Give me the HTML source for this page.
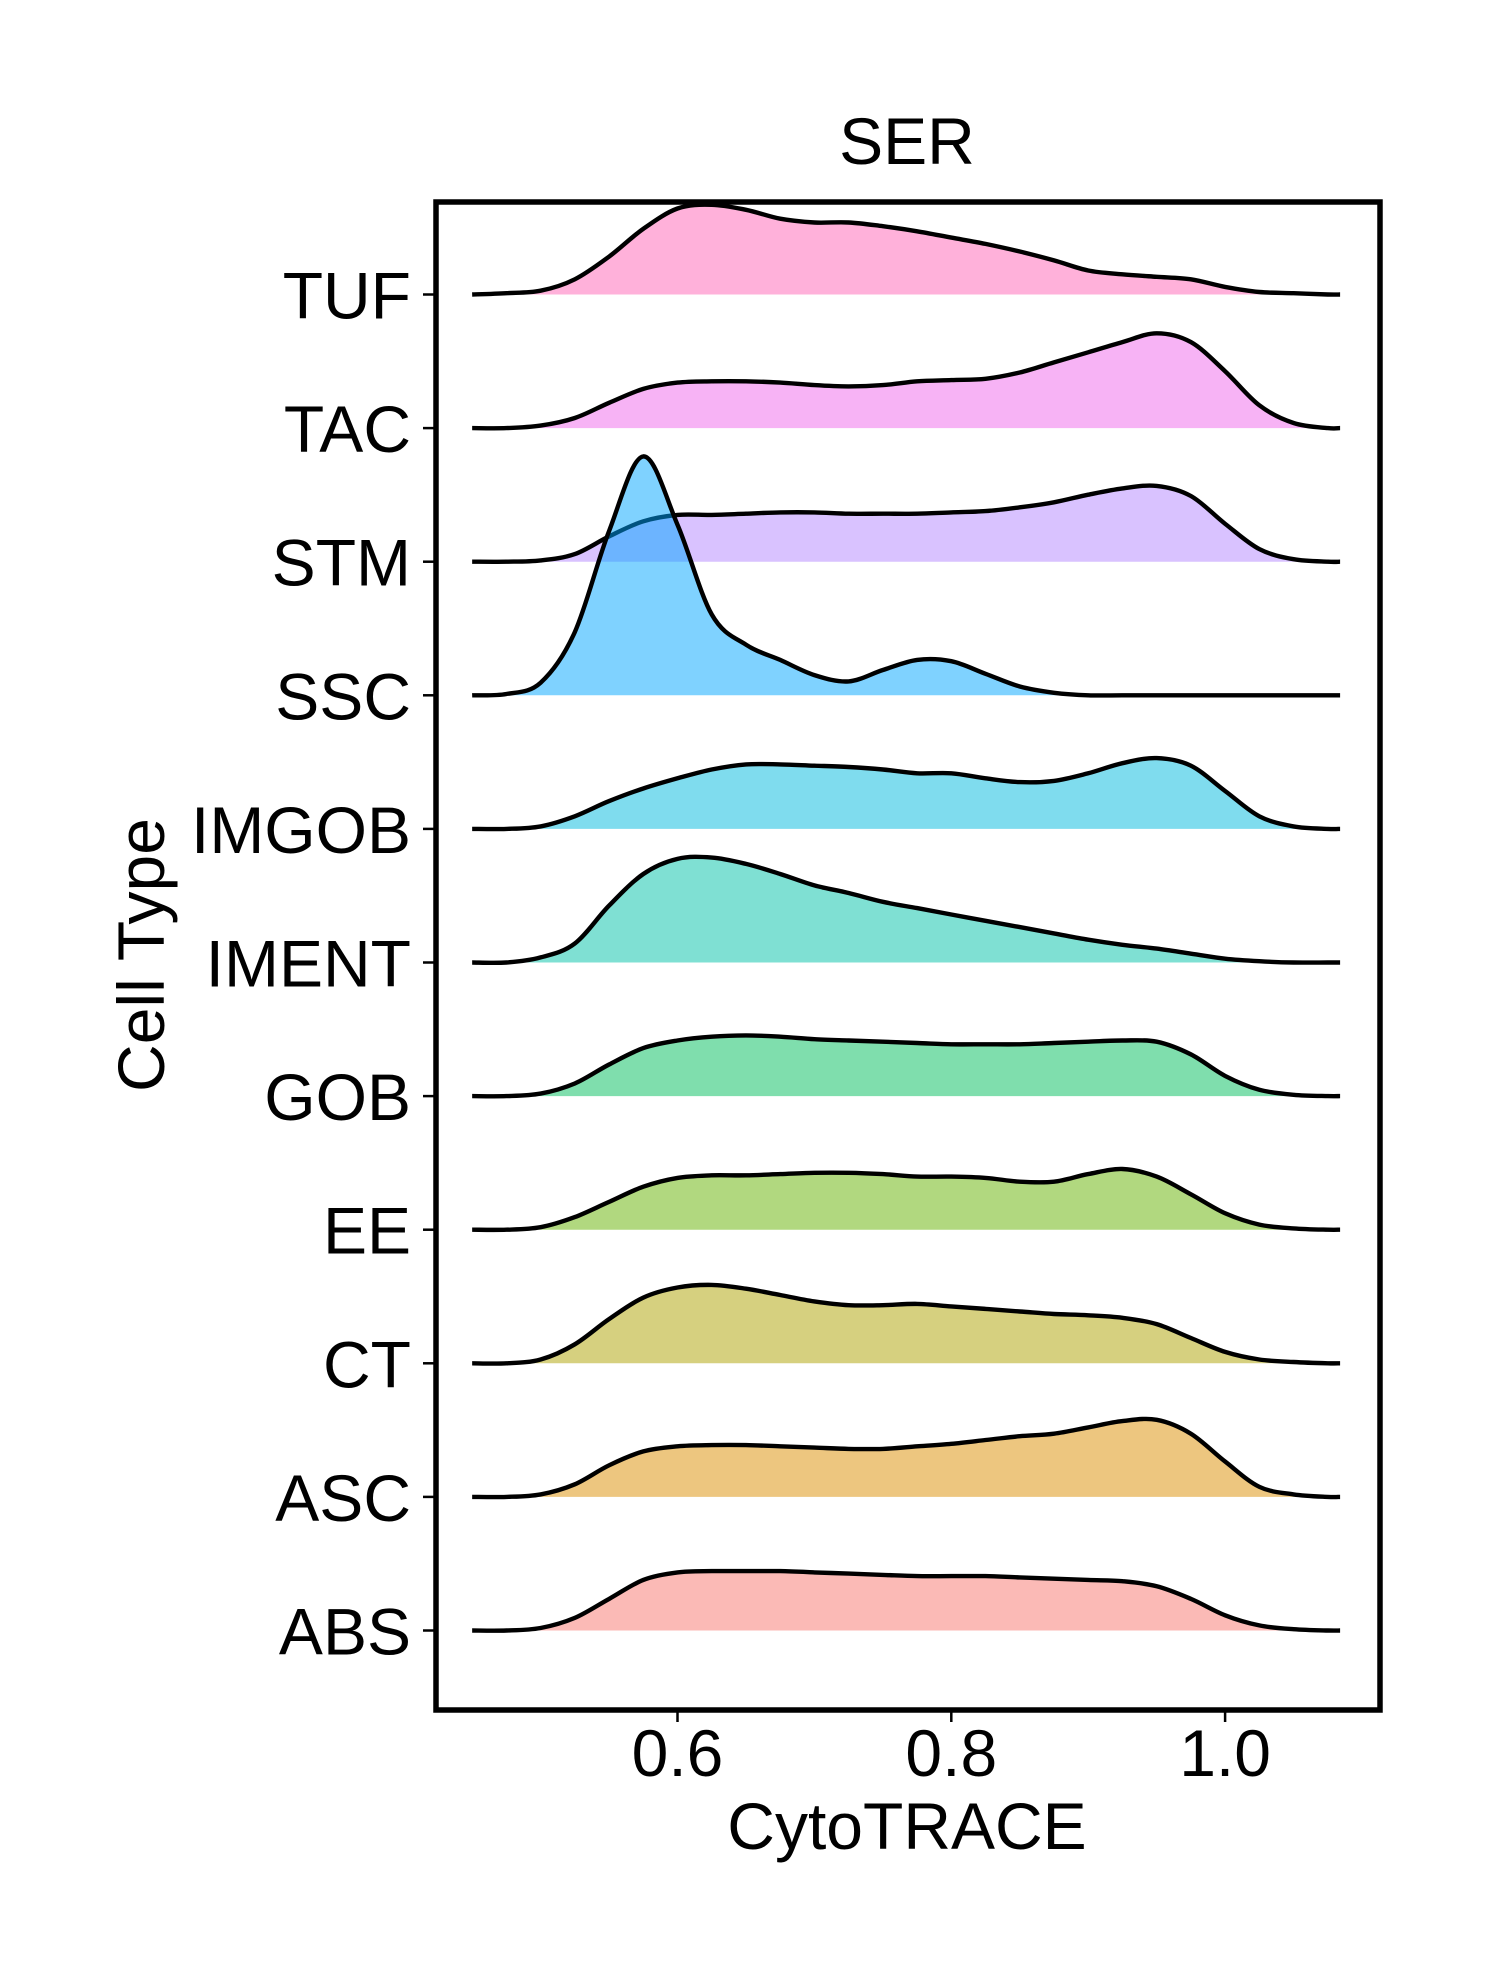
<!DOCTYPE html>
<html><head><meta charset="utf-8"><style>
html,body{margin:0;padding:0;background:#fff;}
svg{display:block;font-family:"Liberation Sans",sans-serif;}
</style></head><body>
<svg id="chart" width="1500" height="1980" viewBox="0 0 1500 1980">
<rect width="1500" height="1980" fill="#fff"/>
<text x="907" y="164" font-size="66" text-anchor="middle">SER</text>
<g id="ridges"></g>
<rect x="436" y="202" width="944" height="1508" fill="none" stroke="#000" stroke-width="5.5"/>
<g id="axes"></g>
<text x="907" y="1849" font-size="66" text-anchor="middle">CytoTRACE</text>
<text transform="translate(164,955) rotate(-90)" font-size="66" text-anchor="middle">Cell Type</text>
</svg>
<script>
const categories = ["TUF","TAC","STM","SSC","IMGOB","IMENT","GOB","EE","CT","ASC","ABS"];
const colors = ["#FF63B6","#EF67EB","#B385FF","#00A6FF","#00BADE","#00C1A7","#00BD5C","#64B200","#AEA200","#DB8E00","#F8766D"];
const xGrid = [0.45,0.475,0.5,0.525,0.55,0.575,0.6,0.625,0.65,0.675,0.7,0.725,0.75,0.775,0.8,0.825,0.85,0.875,0.9,0.925,0.95,0.975,1.0,1.025,1.05,1.075,1.084];
const densTUF = [0,1,3,12,30,52,68,71,67,60,57,57,54,50,45,40,34,27,19,16,14,12,6,2,1,0,0];
const densTAC = [0,0,2,8,20,31,36,37,37,36,34,33,34,37,38,39,44,52,60,68,75,68,45,18,4,0,0];
const densSTM = [0,0,1,6,20,32,37,37,38,39,39,38,38,38,39,40,43,47,53,58,60,52,30,10,2,0,0];
const densSSC = [0,1,10,50,130,189,135,64,40,28,16,11,20,28,27,17,7,2,0,0,0,0,0,0,0,0,0];
const densIMGOB = [0,0,2,10,22,32,40,47,51,51,50,49,47,44,44,40,37,38,44,52,56,50,30,10,2,0,0];
const densIMENT = [0,0,4,15,45,70,82,83,78,70,61,55,48,43,38,33,28,23,18,14,11,7,3,1,0,0,0];
const densGOB = [0,0,2,10,25,38,44,47,48,47,45,44,43,42,41,41,41,42,43,44,43,33,16,5,1,0,0];
const densEE = [0,0,2,10,22,34,41,43,43,44,45,45,44,42,42,41,38,38,44,48,42,28,13,4,1,0,0];
const densCT = [0,0,3,15,35,52,60,62,59,54,49,46,46,47,45,43,41,39,38,36,31,20,9,3,1,0,0];
const densASC = [0,0,2,10,25,36,40,41,41,40,39,38,38,40,42,45,48,50,55,60,61,50,28,8,2,0,0];
const densABS = [0,0,2,10,25,40,46,47,47,47,46,45,44,43,43,43,42,41,40,39,35,25,12,4,1,0,0];
const series = [densTUF,densTAC,densSTM,densSSC,densIMGOB,densIMENT,densGOB,densEE,densCT,densASC,densABS];
const xTicks = [0.6,0.8,1.0];
const xTickLabels = ["0.6","0.8","1.0"];

const NS="http://www.w3.org/2000/svg";
function xScale(v){return 677.5+(v-0.6)*1369;}
function yBase(i){return 294.5+i*133.6;}
function hScale(d){return d*1.264;}
function pathFor(pts){
  let d="M"+pts[0][0]+","+pts[0][1];
  for(let i=0;i<pts.length-1;i++){
    const p0=pts[Math.max(0,i-1)],p1=pts[i],p2=pts[i+1],p3=pts[Math.min(pts.length-1,i+2)];
    const c1=[p1[0]+(p2[0]-p0[0])/6,p1[1]+(p2[1]-p0[1])/6];
    const c2=[p2[0]-(p3[0]-p1[0])/6,p2[1]-(p3[1]-p1[1])/6];
    d+=" C"+c1[0].toFixed(1)+","+c1[1].toFixed(1)+" "+c2[0].toFixed(1)+","+c2[1].toFixed(1)+" "+p2[0].toFixed(1)+","+p2[1].toFixed(1);
  }
  return d;
}
const g=document.getElementById("ridges");
series.forEach((vals,i)=>{
  const b=yBase(i);
  const pts=vals.map((v,k)=>[xScale(xGrid[k]),b-hScale(v)]);
  const line=pathFor(pts);
  const fill=document.createElementNS(NS,"path");
  fill.setAttribute("d",line+" L"+pts[pts.length-1][0]+","+b+" L"+pts[0][0]+","+b+" Z");
  fill.setAttribute("fill",colors[i]);
  fill.setAttribute("fill-opacity","0.5");
  
  
  g.appendChild(fill);
  const ln=document.createElementNS(NS,"path");
  ln.setAttribute("d",line);
  ln.setAttribute("fill","none");
  ln.setAttribute("stroke","#000");
  ln.setAttribute("stroke-width","4.4");
  ln.setAttribute("stroke-linejoin","round");
  
  
  g.appendChild(ln);
});
const ax=document.getElementById("axes");
categories.forEach((c,i)=>{
  const y=yBase(i);
  const t=document.createElementNS(NS,"line");
  t.setAttribute("x1",423);t.setAttribute("x2",436);t.setAttribute("y1",y);t.setAttribute("y2",y);
  t.setAttribute("stroke","#000");t.setAttribute("stroke-width","2.5");
  
  
  ax.appendChild(t);
  const tx=document.createElementNS(NS,"text");
  tx.setAttribute("x",411);tx.setAttribute("y",y+24);
  tx.setAttribute("font-size","66");tx.setAttribute("text-anchor","end");
  tx.textContent=c;
  
  
  ax.appendChild(tx);
});
xTicks.forEach((v,i)=>{
  const x=xScale(v);
  const t=document.createElementNS(NS,"line");
  t.setAttribute("x1",x);t.setAttribute("x2",x);t.setAttribute("y1",1710);t.setAttribute("y2",1722);
  t.setAttribute("stroke","#000");t.setAttribute("stroke-width","2.5");
  
  
  ax.appendChild(t);
  const tx=document.createElementNS(NS,"text");
  tx.setAttribute("x",x);tx.setAttribute("y",1776);
  tx.setAttribute("font-size","66");tx.setAttribute("text-anchor","middle");
  tx.textContent=xTickLabels[i];
  
  
  ax.appendChild(tx);
});
</script>
</body></html>
